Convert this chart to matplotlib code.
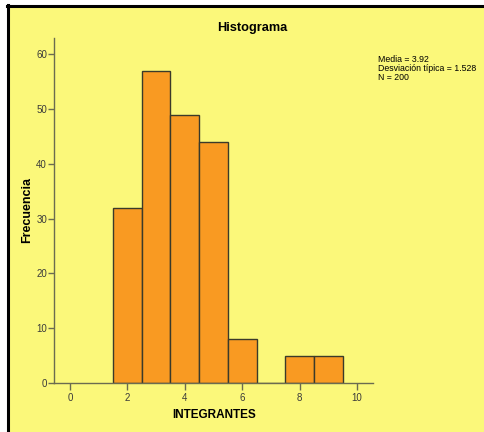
import matplotlib
matplotlib.use("Agg")
import matplotlib.pyplot as plt
from matplotlib.patches import Rectangle
from matplotlib.lines import Line2D

plt.rcParams["font.family"] = ["Liberation Sans", "DejaVu Sans"]

# datos del histograma
bin_edges = [1.5, 2.5, 3.5, 4.5, 5.5, 6.5, 7.5, 8.5, 9.5]
frecuencias = [32, 57, 49, 44, 8, 0, 5, 5]
x_ticks = [0, 2, 4, 6, 8, 10]
y_ticks = [0, 10, 20, 30, 40, 50, 60]
stats_lines = ["Media = 3.92", "Desviación típica = 1.528", "N = 200"]

bg = "#FBF87A"
bar_color = "#F99A22"

fig = plt.figure(figsize=(4.85, 4.32), dpi=100, facecolor="white")

# fondo amarillo con borde negro arriba e izquierda
W, H = 485, 432
fig.patches.append(Rectangle((8 / W, 0), 1 - 8 / W, (H - 6) / H,
                             transform=fig.transFigure, facecolor=bg,
                             edgecolor="none", zorder=-5))
fig.lines.append(Line2D([8 / W, 8 / W], [0, (H - 5) / H], transform=fig.transFigure,
                        color="black", linewidth=2.2, zorder=-4))
fig.lines.append(Line2D([7 / W, 1], [(H - 6) / H, (H - 6) / H], transform=fig.transFigure,
                        color="black", linewidth=2.2, zorder=-4))

ax = fig.add_axes([54 / W, (H - 383) / H, (373 - 54) / W, (383 - 38) / H])
ax.set_zorder(1)
ax.patch.set_alpha(0)

widths = [bin_edges[i + 1] - bin_edges[i] for i in range(len(frecuencias))]
ax.bar(bin_edges[:-1], frecuencias, width=widths, align="edge",
       color=bar_color, edgecolor="#3a3a2a", linewidth=1.0)

ax.set_xlim(-0.56, 10.56)
ax.set_ylim(0, 63)
ax.set_xticks(x_ticks)
ax.set_yticks(y_ticks)

for s in ["top", "right"]:
    ax.spines[s].set_visible(False)
for s in ["left", "bottom"]:
    ax.spines[s].set_color("#6b6b50")
    ax.spines[s].set_linewidth(1.0)

ax.tick_params(axis="y", length=4, width=1, color="#6b6b50", labelsize=7,
               labelcolor="#3a3a3a", pad=1)
ax.tick_params(axis="x", length=5, width=1, color="#6b6b50", labelsize=7,
               labelcolor="#3a3a3a", pad=2)

fig.text(214 / W, 1 - 415 / H, "INTEGRANTES", ha="center", va="center",
         fontsize=8.5, fontweight="bold")
fig.text(27 / W, 1 - 210 / H, "Frecuencia", ha="center", va="center",
         rotation=90, fontsize=9, fontweight="bold")
fig.text(252 / W, 1 - 28 / H, "Histograma", ha="center", va="center",
         fontsize=9.2, fontweight="bold")
fig.text(378 / W, 1 - 55 / H, "\n".join(stats_lines), ha="left", va="top",
         fontsize=6.3, linespacing=1.0)

fig.savefig("out.png", dpi=100, facecolor=fig.get_facecolor())
